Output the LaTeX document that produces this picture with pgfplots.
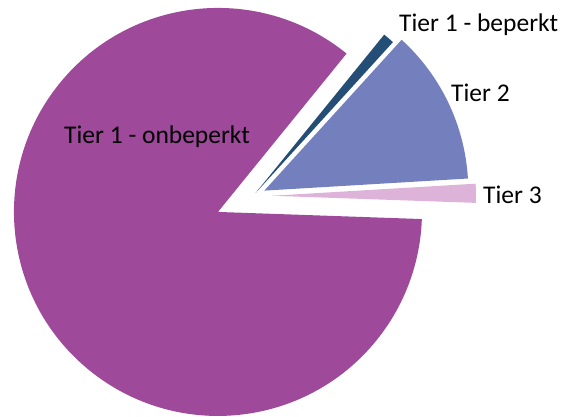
\documentclass[border=0pt]{standalone}
\usepackage{pgfplots}
\usepackage{pgfplotstable}
\pgfplotsset{compat=1.18}
\usepackage{fontspec}
\setmainfont{Carlito}
\definecolor{cOnb}{RGB}{158,73,154}
\definecolor{cBep}{RGB}{37,78,119}
\definecolor{cT2}{RGB}{116,128,189}
\definecolor{cT3}{RGB}{221,179,217}

% share of each slice (percent) and how far it is pulled out of the pie (pt)
\pgfplotstableread{
name      value  explode
Tier3     1.5    19
Tier2     12.3   12.5
Beperkt   0.9    4
Onbeperkt 85.3   38.5
}\pietable

\def\cx{253}\def\cy{220}\def\pieR{204}
\def\cur{-2}
\newcommand\computeslice[2]{%
  \pgfplotstablegetelem{#1}{value}\of\pietable \let\sliceval\pgfplotsretval
  \pgfplotstablegetelem{#1}{explode}\of\pietable \let\sliceexp\pgfplotsretval
  \pgfmathsetmacro\tmpend{\cur+3.6*\sliceval}%
  \expandafter\let\csname start#2\endcsname\cur
  \expandafter\let\csname end#2\endcsname\tmpend
  \pgfmathsetmacro\tmpmid{(\cur+\tmpend)/2}%
  \pgfmathsetmacro\tmpx{\cx+\sliceexp*cos(\tmpmid)}%
  \pgfmathsetmacro\tmpy{\cy+\sliceexp*sin(\tmpmid)}%
  \expandafter\let\csname tx#2\endcsname\tmpx
  \expandafter\let\csname ty#2\endcsname\tmpy
  \let\cur\tmpend
}
\computeslice{0}{A}
\computeslice{1}{B}
\computeslice{2}{C}
\computeslice{3}{D}

\begin{document}
\begin{tikzpicture}[font=\fontsize{25.5}{30}\selectfont]
\begin{axis}[
  hide axis, scale only axis, disabledatascaling,
  x=1pt, y=1pt,
  xmin=0, xmax=561, ymin=0, ymax=416,
  clip=false,
]
\coordinate (ll) at (axis cs:0,0);
\coordinate (ur) at (axis cs:561,416);
\fill[cT3] (axis cs:\txA,\tyA) -- ++(\startA:\pieR pt) arc[start angle=\startA, end angle=\endA, radius=\pieR pt] -- cycle;
\fill[cT2] (axis cs:\txB,\tyB) -- ++(\startB:\pieR pt) arc[start angle=\startB, end angle=\endB, radius=\pieR pt] -- cycle;
\fill[cBep] (axis cs:\txC,\tyC) -- ++(\startC:\pieR pt) arc[start angle=\startC, end angle=\endC, radius=\pieR pt] -- cycle;
\fill[cOnb] (axis cs:\txD,\tyD) -- ++(\startD:\pieR pt) arc[start angle=\startD, end angle=\endD, radius=\pieR pt] -- cycle;
\node[anchor=base west, inner sep=0pt] at (axis cs:64,272.7) {Tier 1 - onbeperkt};
\node[anchor=base west, inner sep=0pt] at (axis cs:399,384.3) {Tier 1 - beperkt};
\node[anchor=base west, inner sep=0pt] at (axis cs:451,314.3) {Tier 2};
\node[anchor=base west, inner sep=0pt] at (axis cs:483,213) {Tier 3};
\end{axis}
\pgfresetboundingbox
\path (ll) rectangle (ur);
\end{tikzpicture}
\end{document}
